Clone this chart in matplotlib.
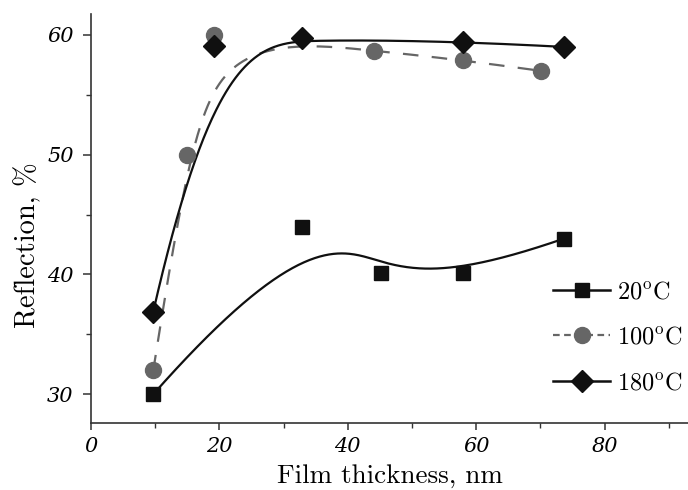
import numpy as np
import matplotlib
matplotlib.use("Agg")
import matplotlib.pyplot as plt
from matplotlib.ticker import MultipleLocator

# ---- data ----
x_20 = [9.7, 32.8, 45.1, 58.0, 73.7]
y_20 = [30.0, 44.0, 40.1, 40.1, 43.0]

x_100 = [9.7, 15.0, 19.2, 44.1, 58.0, 70.1]
y_100 = [32.0, 50.0, 60.0, 58.7, 57.9, 57.0]

x_180 = [9.7, 19.2, 32.8, 58.0, 73.7]
y_180 = [36.9, 59.1, 59.75, 59.45, 59.0]

labels = ["20$^{\\mathrm{o}}$C", "100$^{\\mathrm{o}}$C", "180$^{\\mathrm{o}}$C"]


def bspline(xs, ys, n=300, k=3):
    """Clamped uniform B-spline using the points as control points (Origin 'B-Spline')."""
    P = np.column_stack([xs, ys]).astype(float)
    m = len(P)
    inner = np.linspace(0, 1, m - k + 1)[1:-1]
    t = np.concatenate([np.zeros(k + 1), inner, np.ones(k + 1)])
    us = np.linspace(0, 1, n)
    out = []
    for u in us:
        if u >= 1.0:
            span = m - 1
        else:
            span = np.searchsorted(t, u, side="right") - 1
        d = [P[j + span - k].copy() for j in range(k + 1)]
        for r in range(1, k + 1):
            for j in range(k, r - 1, -1):
                i = j + span - k
                den = t[i + k + 1 - r] - t[i]
                a = 0.0 if den == 0 else (u - t[i]) / den
                d[j] = (1 - a) * d[j - 1] + a * d[j]
        out.append(d[k])
    out = np.array(out)
    return out[:, 0], out[:, 1]


plt.rcParams["mathtext.fontset"] = "cm"
plt.rcParams["axes.formatter.use_mathtext"] = False

fig = plt.figure(figsize=(6.88, 4.90), dpi=100)
ax = fig.add_axes([91 / 688, 67 / 490, 1 - 91 / 688, 409 / 490])

black = "#101010"
gray = "#666666"

cx, cy = bspline(x_20, y_20)
ax.plot(cx, cy, color=black, lw=1.6, zorder=2)
cx, cy = bspline(x_100, y_100)
ax.plot(cx, cy, color=gray, lw=1.6, dashes=(7, 6), zorder=2)
cx, cy = bspline(x_180, y_180)
ax.plot(cx, cy, color=black, lw=1.6, zorder=2)

ax.plot(x_20, y_20, ls="none", marker="s", ms=10.5, color=black, zorder=3)
ax.plot(x_100, y_100, ls="none", marker="o", ms=11.5, color=gray, zorder=3)
ax.plot(x_180, y_180, ls="none", marker="D", ms=11.5, color=black, zorder=4)

# legend handles
h1, = ax.plot([], [], color=black, lw=1.8, marker="s", ms=10.5, label=labels[0])
h2, = ax.plot([], [], color=gray, lw=1.6, dashes=(3, 2), marker="o", ms=11.5, label=labels[1])
h3, = ax.plot([], [], color=black, lw=1.8, marker="D", ms=11.5, label=labels[2])
leg = ax.legend(handles=[h1, h2, h3], loc="upper left",
                bbox_to_anchor=((553 - 91) / 597, (423 - 281) / 409),
                frameon=False, handlelength=2.35, labelspacing=0.97,
                handletextpad=0.3, borderpad=0, borderaxespad=0,
                prop={"family": "cmr10", "size": 17.5})

ax.set_xlim(0, 93)
ax.set_ylim(27.6, 61.75)
ax.xaxis.set_major_locator(MultipleLocator(20))
ax.xaxis.set_minor_locator(MultipleLocator(10))
ax.yaxis.set_major_locator(MultipleLocator(10))
ax.yaxis.set_minor_locator(MultipleLocator(5))

for s in ["top", "right"]:
    ax.spines[s].set_visible(False)
for s in ["left", "bottom"]:
    ax.spines[s].set_linewidth(1.2)
    ax.spines[s].set_color("#333333")

ax.tick_params(axis="y", which="major", direction="out", length=5.5, width=1.1, color="#333333", pad=7)
ax.tick_params(axis="x", which="major", direction="out", length=5, width=1.1, color="#333333", pad=5)
ax.tick_params(which="minor", direction="out", length=3.5, width=1.0, color="#333333")
for lab in ax.get_xticklabels() + ax.get_yticklabels():
    lab.set_family("DejaVu Serif")
    lab.set_style("italic")
    lab.set_fontsize(15)

ax.set_xlabel("Film thickness, nm", family="cmr10", fontsize=19.5, labelpad=6)
ax.set_ylabel("Reflection, %", family="cmr10", fontsize=20.5)
ax.yaxis.set_label_coords((41 - 91) / 597, (423 - 245) / 409)

fig.savefig("out.png", dpi=100)
